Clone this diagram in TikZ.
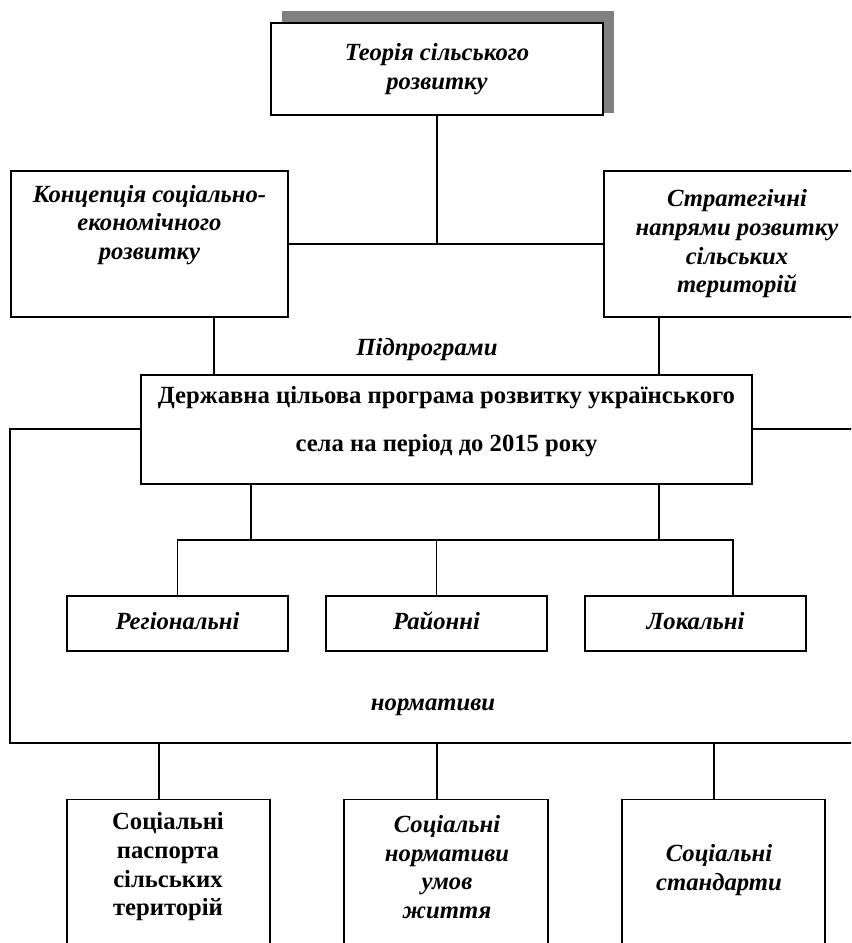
\documentclass[tikz,border=0pt]{standalone}
\usepackage{fontspec}
\setmainfont{Liberation Serif}
\definecolor{shadowgray}{RGB}{128,128,128}
\tikzset{every picture/.style={line width=1pt}}
\tikzset{
  box/.style={draw, fill=white, inner sep=0pt},
  lbl/.style={align=center, inner sep=0pt, font=\bfseries\itshape\fontsize{18.5}{21.5}\selectfont},
  lblup/.style={align=center, inner sep=0pt, font=\bfseries\fontsize{18.5}{21.5}\selectfont},
  subbox/.style={box, lbl, minimum width=165.75pt, minimum height=41.25pt, text height=12.5pt, text depth=3.5pt},
}

\begin{document}
\begin{tikzpicture}[x=0.75pt,y=0.75pt,yscale=-1,xscale=1]
\useasboundingbox (0,0) rectangle (851,943);
\clip (0,0) rectangle (851,943);

%Shape: Rectangle (shadow)
\fill[shadowgray] (282,11) rectangle (614,113);
% Theory
\node[box, lbl, minimum width=249pt, minimum height=69pt] (theory) at (437,69) {Теорія сільського\\розвитку};

% Upper boxes
\node[box, minimum width=207.75pt, minimum height=109.5pt] (conc) at (149.5,244) {};
\node[lbl] (conctxt) at (149.5,225) {Концепція соціально-\\економічного\\розвитку};
\node[box, lbl, minimum width=199.5pt, minimum height=109.5pt] (strat) at (737,244) {Стратегічні\\напрями розвитку\\сільських\\територій};
\draw (conc.east) -- (strat.west);
\draw (theory.south) -- (theory.south |- conc.east);

%Shape: Rectangle (norms frame)
\node[box, minimum width=652.5pt, minimum height=235.5pt] (normframe) at (445,586) {};

% Programme
\node[box, minimum width=458.25pt, minimum height=81.75pt] (prog) at (446.5,429.5) {};
\node[lblup, font=\bfseries\fontsize{18.5}{36}\selectfont] (progtxt) at (446.5,422) {Державна цільова програма розвитку українського\\села на період до 2015 року};
\draw ([xshift=48.4pt]conc.south) -- ([xshift=48.4pt]conc.south |- prog.north);
\draw ([xshift=-58.5pt]strat.south) -- ([xshift=-58.5pt]strat.south |- prog.north);
% Text Node
\node[lbl] (subprog) at (427,350) {Підпрограми};

% Subprogrammes
\node[subbox] (reg) at (177.5,623.5) {Регіональні};
\node[subbox] (rai) at (436.5,623.5) {Районні};
\node[subbox] (lok) at (695.5,623.5) {Локальні};
\coordinate (fork) at (437,540);
\draw ([xshift=-146.6pt]prog.south) -- ([xshift=-146.6pt]prog.south |- fork);
\draw ([xshift=159.4pt]prog.south) -- ([xshift=159.4pt]prog.south |- fork);
\draw (reg.north) |- (fork) -| ([xshift=28.1pt]lok.north);
\draw (rai.north) -- (rai.north |- fork);
% Text Node
\node[lbl] (normlbl) at (433,707) {нормативи};

% Bottom boxes
\node[box, anchor=north, minimum width=152.25pt, minimum height=135pt] (pasp) at (168.5,799) {};
\node[lblup] (pasptxt) at (168,867) {Соціальні\\паспорта\\сільських\\територій};
\node[box, anchor=north, minimum width=153pt, minimum height=135pt] (normliv) at (446,799) {};
\node[lbl] (normlivtxt) at (447,867) {Соціальні\\нормативи\\умов\\життя};
\node[box, anchor=north, minimum width=152.25pt, minimum height=135pt] (stand) at (723.5,799) {};
\node[lbl] (standtxt) at (719,870) {Соціальні\\стандарти};
\draw ([xshift=-7.1pt]pasp.north) -- ([xshift=-7.1pt]pasp.north |- normframe.south);
\draw ([xshift=-6.8pt]normliv.north) -- ([xshift=-6.8pt]normliv.north |- normframe.south);
\draw ([xshift=-7.1pt]stand.north) -- ([xshift=-7.1pt]stand.north |- normframe.south);

\end{tikzpicture}
\end{document}
